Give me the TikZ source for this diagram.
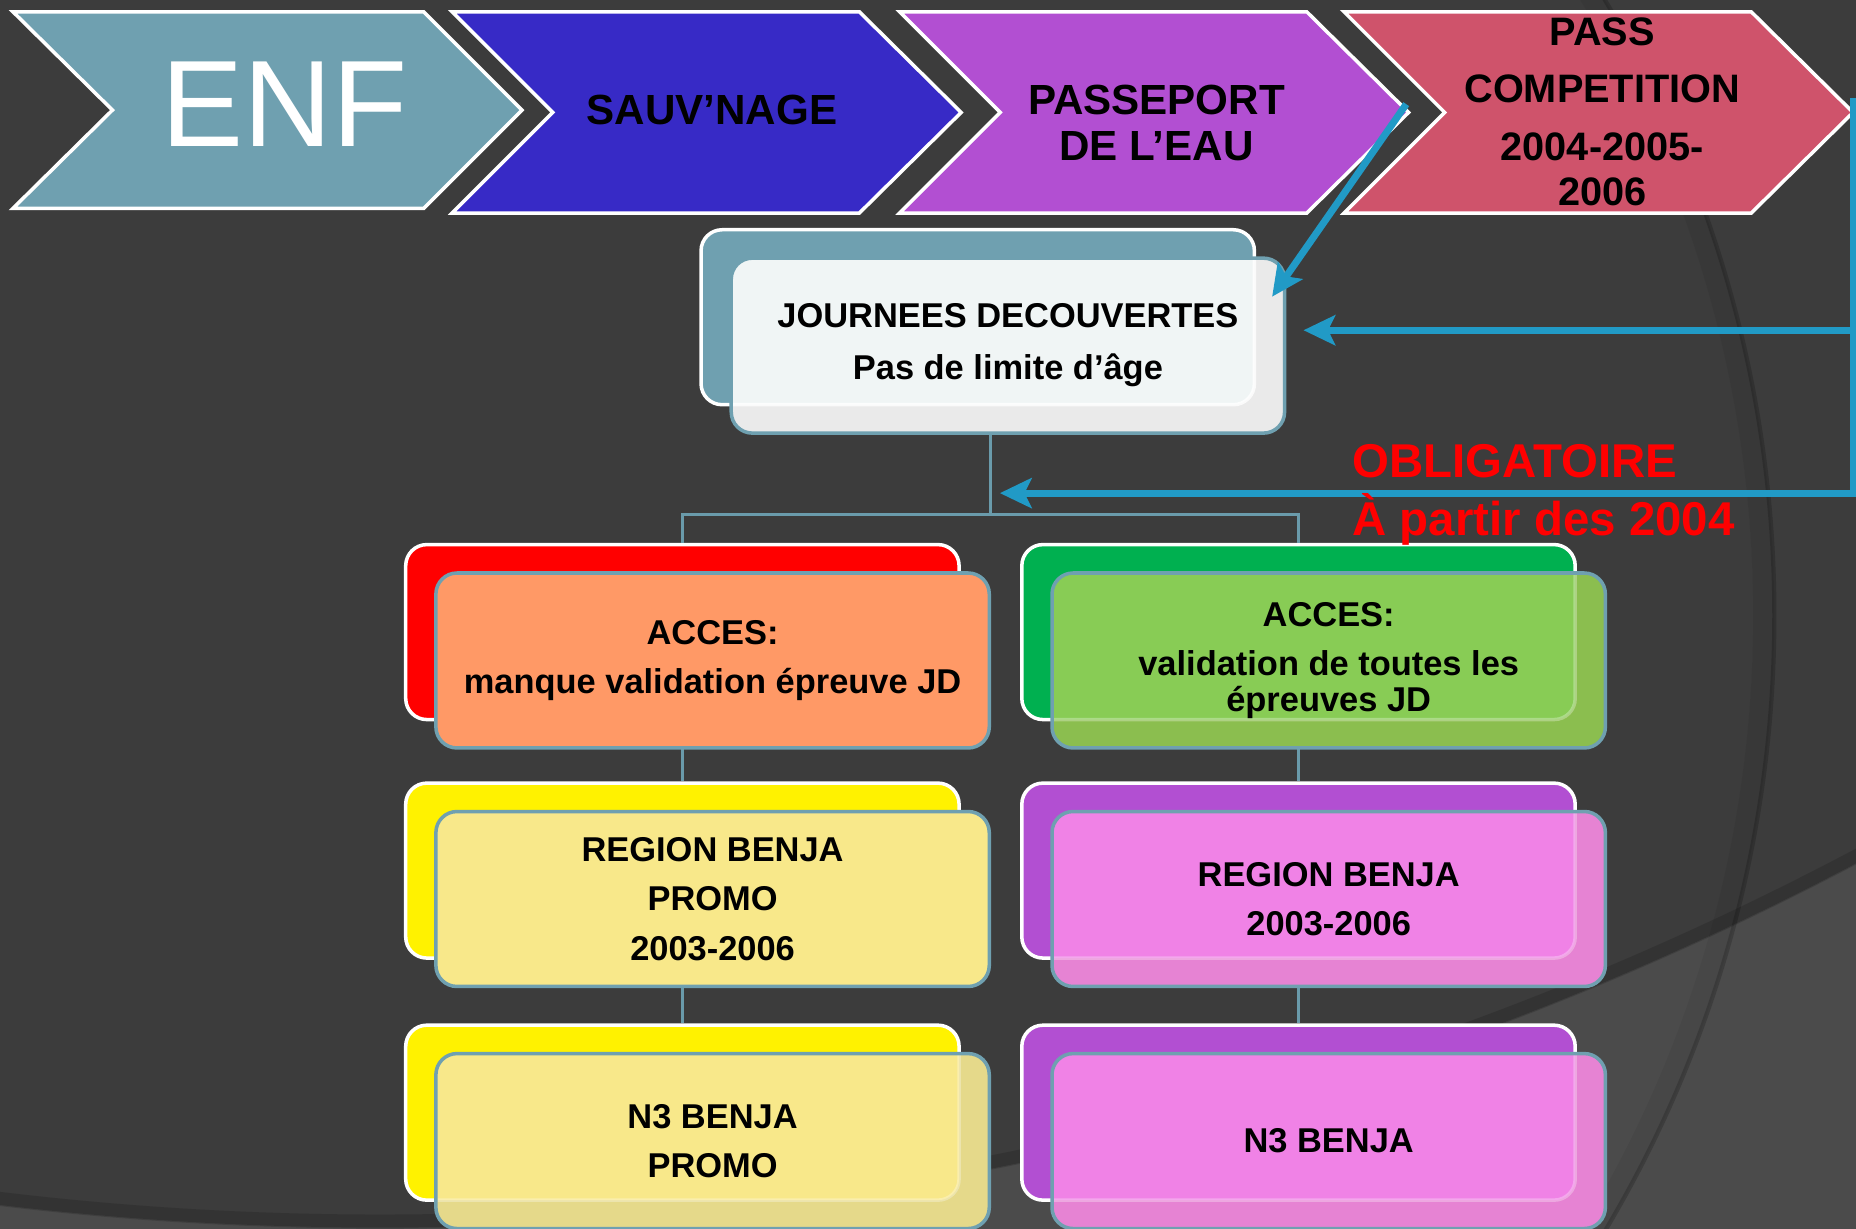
\documentclass[tikz,border=0pt]{standalone}
\usepackage{fontspec}
\setmainfont{Liberation Sans}
\usetikzlibrary{arrows.meta,calc}

\definecolor{bgdark}{HTML}{3C3C3C}
\definecolor{bglight}{HTML}{4B4B4B}
\definecolor{enfteal}{HTML}{6FA0B0}
\definecolor{treecol}{HTML}{6A9BAB}
\definecolor{sauvblue}{HTML}{372AC6}
\definecolor{eaupurple}{HTML}{B24FD2}
\definecolor{passrose}{HTML}{CF536B}
\definecolor{arrowblue}{HTML}{219AC6}
\definecolor{jdlight}{HTML}{F0F5F5}
\definecolor{jdgrey}{HTML}{EAEAEA}
\definecolor{accesorange}{HTML}{FF9966}
\definecolor{accesgreen}{HTML}{00B050}
\definecolor{lightgreen}{HTML}{88CC55}
\definecolor{dullgreen}{HTML}{8BBE4F}
\definecolor{benjayellow}{HTML}{F8E88A}
\definecolor{dullyellow}{HTML}{E5D98A}
\definecolor{benjapink}{HTML}{F082E6}
\definecolor{dullpink}{HTML}{E683D3}

\newcommand{\boxfont}{\bfseries\fontsize{9.8}{14.1}\selectfont}

\begin{document}
\begin{tikzpicture}[x=0.011837cm, y=-0.011837cm,
  chevron/.style={draw=white, line width=1pt, line join=miter},
  chevtext/.style={font=\bfseries\fontsize{12}{13.3}\selectfont, align=center, inner sep=0pt},
  backbox/.style={rectangle, rounded corners=6pt, draw=white, line width=1pt,
    minimum width=157.5pt, minimum height=49.8pt, inner sep=0pt},
  frontbox/.style n args={3}{rectangle, rounded corners=6pt, draw=enfteal, line width=1pt,
    fill=#2, minimum width=157.5pt, minimum height=49.8pt, inner sep=0pt, align=center, font=\boxfont,
    path picture={\draw[fill=#1, draw=white, draw opacity=#3, line width=1pt, rounded corners=6pt]
      ([shift={(-25.5,-24)}]path picture bounding box.south west) rectangle
      ([shift={(-25.5,-24)}]path picture bounding box.north east);}},
  treeline/.style={draw=treecol, line width=1pt},
  bluearrow/.style={draw=arrowblue, line width=2pt, line join=miter, -{Stealth[length=9pt, width=8.5pt, inset=2pt]}},
  redtext/.style={text=red, font=\bfseries\fontsize{13.5}{16.5}\selectfont, align=left, inner sep=0pt}]

\useasboundingbox (0,0) rectangle (1568,1038);
\fill[bglight] (0,0) rectangle (1568,1038);
\begin{scope}
\clip (0,0) rectangle (1568,1038);
\fill[bgdark] (321,-1639) circle [radius=2676];
\draw[black, opacity=.15, line width=4pt] (321,-1639) circle [radius=2671];
\draw[black, opacity=.05, line width=6pt] (484,520) circle [radius=1006];
\draw[black, opacity=.18, line width=1.2pt] (484,520) circle [radius=1015];
\end{scope}

\draw[chevron, fill=enfteal] (11,10) -- (358,10) -- (441,93) -- (358,176) -- (11,176) -- (95,93) -- cycle;
\foreach \x/\c in {382/sauvblue, 760/eaupurple, 1135.5/passrose}
  \draw[chevron, fill=\c] (\x,10) -- ++(344,0) -- ++(86,85) -- ++(-86,85) -- ++(-344,0) -- ++(85,-85) -- cycle;

\node[inner sep=0pt, text=white, font=\fontsize{35}{35}\selectfont] (enf) at (240.5,88) {ENF};
\node[chevtext] (sauvnage) at (601.5,93) {SAUV’NAGE};
\node[chevtext] (passeport) at (977,104) {PASSEPORT\\DE L’EAU};
\node[chevtext, font=\bfseries\fontsize{11.3}{12.8}\selectfont] (pass) at (1353.6,94.4)
  {PASS\\[3.5pt]COMPETITION\\[3.5pt]2004-2005-\\2006};

\node[backbox, fill=enfteal] (jdb) at (826,268) {};
\node[backbox, fill=red] (accesLb) at (576.5,534) {};
\node[backbox, fill=accesgreen] (accesRb) at (1097,534) {};
\node[backbox, fill=yellow] (regionLb) at (576.5,735.5) {};
\node[backbox, fill=eaupurple] (regionRb) at (1097,735.5) {};
\node[backbox, fill=yellow] (n3Lb) at (576.5,940) {};
\node[backbox, fill=eaupurple] (n3Rb) at (1097,940) {};

\coordinate (fork) at ($(accesLb.north)!.5!(accesRb.north) + (0,-24)$);
\draw[treeline] (fork |- jdb.south) -- (fork);
\draw[treeline] (accesLb.north) |- (fork) -| (accesRb.north);
\draw[treeline] (accesLb.south) -- (regionLb.north);
\draw[treeline] (regionLb.south) -- (n3Lb.north);
\draw[treeline] (accesRb.south) -- (regionRb.north);
\draw[treeline] (regionRb.south) -- (n3Rb.north);

\node[frontbox={jdlight}{jdgrey}{.8}, font=\bfseries\fontsize{9.8}{14.8}\selectfont] (jd) at ([shift={(25.5,24)}]jdb)
  {JOURNEES DECOUVERTES\\Pas de limite d’âge};
\node[frontbox={accesorange}{accesorange}{0}] (accesL) at ([shift={(25.5,24)}]accesLb) {ACCES:\\manque validation épreuve JD};
\node[frontbox={lightgreen}{dullgreen}{.3}, font=\bfseries\fontsize{9.8}{10.1}\selectfont] (accesR) at ([shift={(25.5,24)}]accesRb)
  {ACCES:\\[4pt]validation de toutes les\\épreuves JD};
\node[frontbox={benjayellow}{benjayellow}{0}] (regionL) at ([shift={(25.5,24)}]regionLb) {REGION BENJA\\PROMO\\2003-2006};
\node[frontbox={benjapink}{dullpink}{.3}] (regionR) at ([shift={(25.5,24)}]regionRb) {REGION BENJA\\2003-2006};
\node[frontbox={benjayellow}{dullyellow}{.3}] (n3L) at ([shift={(25.5,24)}]n3Lb) {N3 BENJA\\PROMO};
\node[frontbox={benjapink}{dullpink}{.3}] (n3R) at ([shift={(25.5,24)}]n3Rb) {N3 BENJA};

\coordinate (passeporttip) at (1188,88);
\coordinate (railtop) at (1565.5,83);
\coordinate (jdright) at ([shift={(14.5,-13)}]jd.east);
\draw[bluearrow] (passeporttip) -- ([shift={(-12,34)}]jd.north east);
\draw[bluearrow] (railtop) |- ([shift={(8,-18)}]fork);
\draw[bluearrow] (railtop |- jdright) -- (jdright);

\node[redtext, anchor=west] (oblig) at (1142,418) {OBLIGATOIRE\\À partir des 2004};

\end{tikzpicture}
\end{document}
